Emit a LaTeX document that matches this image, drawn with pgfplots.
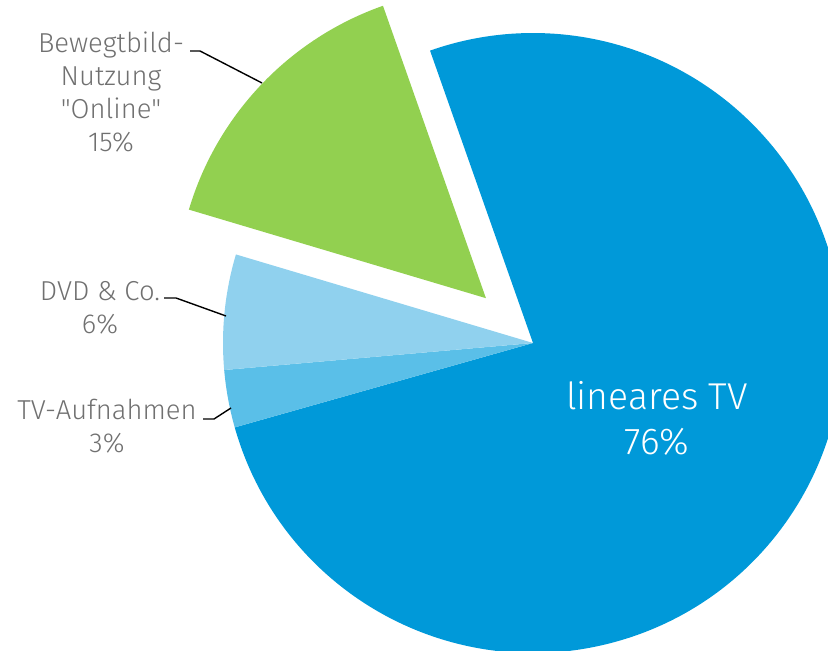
\documentclass[border=0pt]{standalone}
\usepackage{pgfplots}
\pgfplotsset{compat=1.18}
\usepackage{pgfplotstable}
\usepackage{fontspec}
\setmainfont{Fira Sans Light}[Ligatures=TeXOff]
\definecolor{cBlue}{HTML}{0099D9}
\definecolor{cLight}{HTML}{90D1EE}
\definecolor{cMid}{HTML}{5ABFE8}
\definecolor{cGreen}{HTML}{92D050}
\definecolor{cText}{HTML}{707070}
% shares in percent
\pgfplotstableread{
name     value
online   15
dvd      6
tvauf    3
linear   76
}\pietable
\begin{document}
\begin{tikzpicture}
\pgfplotstablegetelem{0}{value}\of\pietable \let\vA\pgfplotsretval
\pgfplotstablegetelem{1}{value}\of\pietable \let\vB\pgfplotsretval
\pgfplotstablegetelem{2}{value}\of\pietable \let\vC\pgfplotsretval
\pgfplotstablegetelem{3}{value}\of\pietable \let\vD\pgfplotsretval
\pgfmathsetmacro\aS{109.4}
\pgfmathsetmacro\aA{\aS+3.6*\vA}
\pgfmathsetmacro\aB{\aA+3.6*\vB}
\pgfmathsetmacro\aC{\aB+3.6*\vC}
\pgfmathsetmacro\aD{\aC+3.6*\vD}
\pgfmathsetmacro\aMid{(\aS+\aA)/2}
\begin{axis}[
  scale only axis, width=828bp, height=651bp,
  xmin=0, xmax=828, ymin=0, ymax=651,
  hide axis, clip=true,
]
\def\R{310bp}
% linear TV
\fill[cBlue] (axis cs:533,308) -- ++(\aC:\R) arc[start angle=\aC, end angle=\aD, radius=\R] -- cycle;
% TV-Aufnahmen
\fill[cMid] (axis cs:533,308) -- ++(\aB:\R) arc[start angle=\aB, end angle=\aC, radius=\R] -- cycle;
% DVD
\fill[cLight] (axis cs:533,308) -- ++(\aA:\R) arc[start angle=\aA, end angle=\aB, radius=\R] -- cycle;
% Online (exploded)
\fill[cGreen] (axis cs:533,308) ++(\aMid:65bp) -- ++(\aS:\R) arc[start angle=\aS, end angle=\aA, radius=\R] -- cycle;
% leader lines
\draw[black, line width=1.4bp] (axis cs:190,600) -- (axis cs:200,600) -- (axis cs:262,568);
\draw[black, line width=1.4bp] (axis cs:164,353) -- (axis cs:176,353) -- (axis cs:226,335);
\draw[black, line width=1.4bp] (axis cs:203,232) -- (axis cs:214,232) -- (axis cs:231,243);
% labels
\node[cText, align=center, inner sep=0pt, font=\fontsize{27.5}{33}\selectfont] at (axis cs:111,559) {Bewegtbild-\\Nutzung\\"Online"\\15\%};
\node[cText, align=center, inner sep=0pt, font=\fontsize{27.5}{33}\selectfont] at (axis cs:100,343) {DVD \& Co.\\6\%};
\node[cText, align=center, inner sep=0pt, font=\fontsize{27.5}{33}\selectfont] at (axis cs:107,225) {TV-Aufnahmen\\3\%};
\node[white, align=center, inner sep=0pt, font=\fontsize{37.5}{45}\selectfont] at (axis cs:657,233) {lineares TV\\76\%};
\end{axis}
\pgfresetboundingbox
\path (current axis.south west) rectangle (current axis.north east);
\end{tikzpicture}
\end{document}
